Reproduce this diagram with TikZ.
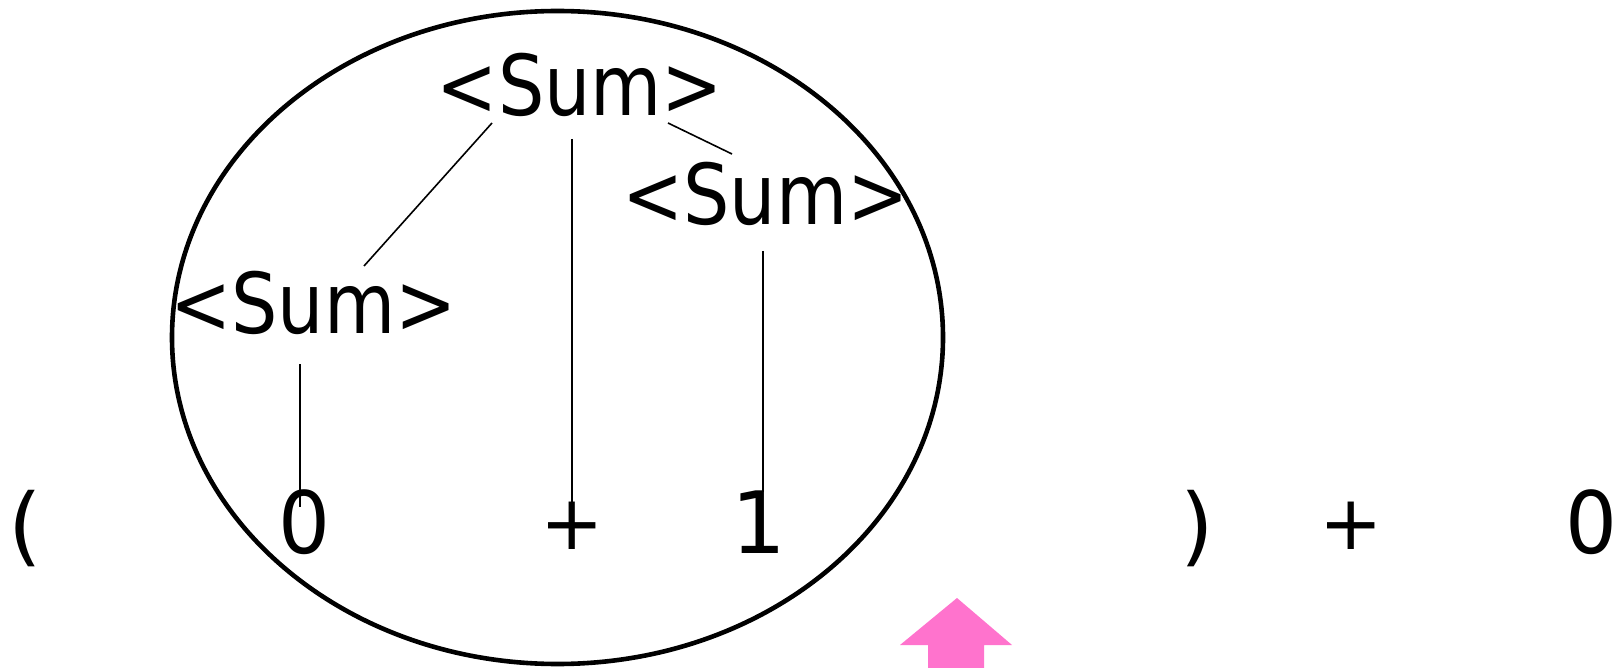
\documentclass[tikz,border=0pt]{standalone}
\usepackage{fontspec}
\usepackage{graphicx}
\setmainfont{DejaVu Sans}
\usetikzlibrary{calc}
\definecolor{arrowpink}{RGB}{255,115,205}
\tikzset{
  sym/.style={inner sep=0pt, outer sep=0pt, anchor=center, font=\fontsize{86}{90}\selectfont},
  nonterm/.style={inner sep=0pt, outer sep=0pt, anchor=center, font=\fontsize{84}{90}\selectfont},
  edge/.style={line width=1.6pt, black},
  ring/.style={line width=4.6pt, black},
}
\newcommand{\sumlabel}{\scalebox{0.87}[1]{<Sum>}}
\begin{document}
\begin{tikzpicture}[x=1pt, y=-1pt]
\useasboundingbox (0,0) rectangle (1620,668);
% oval
\draw[ring] (557.5,337.5) ellipse [x radius=385.5, y radius=326.5];
% nonterminals
\node[nonterm] (topSum) at (580,84.5) {\sumlabel};
\node[nonterm] (rightSum) at (765.5,194) {\sumlabel};
\node[nonterm] (leftSum) at (313.5,302.5) {\sumlabel};
% terminals
\node[sym] (lparen) at (25,529) {(};
\node[sym] (zeroA) at (304,522.5) {\scalebox{0.95}[1]{0}};
\node[sym] (plusA) at (572,526) {\scalebox{0.88}{+}};
\node[sym] (one) at (759,522) {1};
\node[sym] (rparen) at (1197.5,529) {)};
\node[sym] (plusB) at (1351.5,526) {\scalebox{0.88}{+}};
\node[sym] (zeroB) at (1591.5,522.5) {\scalebox{0.95}[1]{0}};
% connectors
\draw[edge] ($(topSum.center)+(-88,38.5)$) -- ($(leftSum.center)+(50.5,-36.5)$);
\draw[edge] ($(topSum.center)+(-8,54.5)$) -- ($(plusA.center)+(0,-24)$);
\draw[edge] ($(topSum.center)+(88,38.5)$) -- ($(rightSum.center)+(-33.5,-40)$);
\draw[edge] ($(rightSum.center)+(-2.5,57)$) -- ($(one.center)+(4,-30)$);
\draw[edge] ($(leftSum.center)+(-13.5,61.5)$) -- ($(zeroA.center)+(-4,-15.5)$);
% pointer arrow
\fill[arrowpink] (957,598) -- (1012,645) -- (984,645) -- (984,668) -- (928,668) -- (928,645) -- (900,645) -- cycle;
\end{tikzpicture}
\end{document}
